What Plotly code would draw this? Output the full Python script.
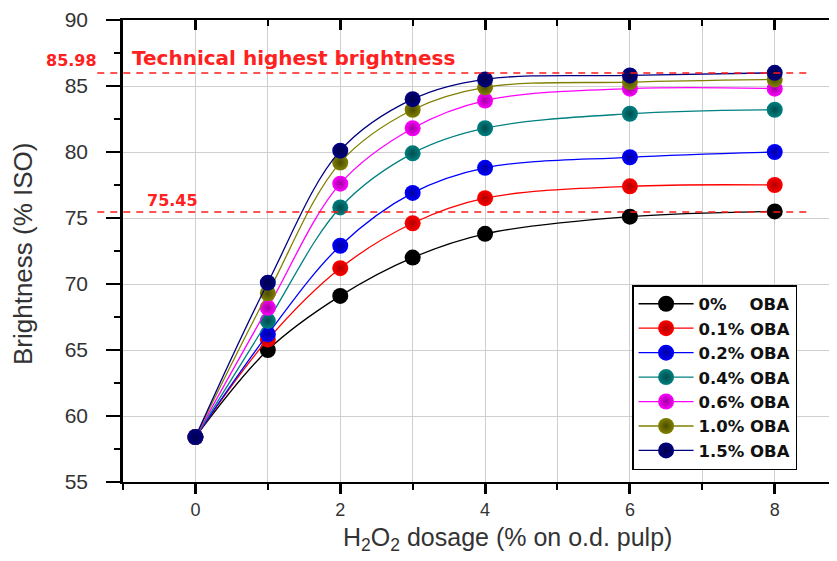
import plotly.graph_objects as go

dosage = [0, 1, 2, 3, 4, 6, 8]
series_names = ["0%\u00a0\u00a0\u00a0 OBA", "0.1% OBA", "0.2% OBA", "0.4% OBA", "0.6% OBA", "1.0% OBA", "1.5% OBA"]
oba_0 = [58.4, 65.0, 69.1, 72.0, 73.8, 75.1, 75.5]
oba_01 = [58.4, 65.8, 71.2, 74.6, 76.5, 77.4, 77.5]
oba_02 = [58.4, 66.2, 72.9, 76.9, 78.8, 79.6, 80.0]
oba_04 = [58.4, 67.2, 75.8, 79.9, 81.8, 82.9, 83.2]
oba_06 = [58.4, 68.2, 77.6, 81.8, 83.9, 84.8, 84.8]
oba_10 = [58.4, 69.3, 79.2, 83.2, 84.9, 85.3, 85.5]
oba_15 = [58.4, 70.1, 80.1, 84.0, 85.5, 85.8, 86.0]
colors = ["#000000", "#ff0000", "#0000ff", "#008080", "#ff00ff", "#808000", "#000080"]
edge_colors = ["#000000", "#b00000", "#0000a0", "#004c4c", "#a000a0", "#4c4c00", "#00004c"]
ref_high = 85.98
ref_low = 75.45
high_label = "85.98"
low_label = "75.45"
high_text = "Technical highest brightness"
x_title = "H<sub>2</sub>O<sub>2</sub> dosage (% on o.d. pulp)"
y_title = "Brightness (% ISO)"

all_series = [oba_0, oba_01, oba_02, oba_04, oba_06, oba_10, oba_15]

fig = go.Figure()
for name, vals, c, ec in zip(series_names, all_series, colors, edge_colors):
    fig.add_trace(go.Scatter(
        x=dosage, y=vals, name=name, mode="lines+markers",
        line=dict(color=c, width=1.3, shape="spline", smoothing=1.0),
        marker=dict(size=16, color=c, line=dict(width=0),
                    gradient=dict(type="radial", color=ec)),
    ))

# invisible trace for mirrored top/right axes
fig.add_trace(go.Scatter(x=[0], y=[ref_high], xaxis="x2", yaxis="y2", mode="markers",
                         marker=dict(opacity=0), showlegend=False, hoverinfo="skip"))

font_main = "Liberation Sans, Arial, sans-serif"
font_bold = "DejaVu Sans, Liberation Sans, sans-serif"
axis_color = "#333333"

fig.update_layout(
    width=837, height=561,
    margin=dict(l=115, r=8, t=12, b=87),
    paper_bgcolor="white", plot_bgcolor="white",
    font=dict(family=font_main, color=axis_color),
    xaxis=dict(
        range=[-1, 8.86], dtick=2, tick0=0, automargin=False,
        showline=True, linecolor="black", linewidth=2,
        ticks="outside", ticklen=10, tickwidth=2.5, tickcolor="black",
        tickfont=dict(size=18, color=axis_color),
        showgrid=True, gridcolor="#cfcfcf", gridwidth=1,
        minor=dict(dtick=1, tick0=0, ticks="outside", ticklen=6, tickwidth=2,
                   tickcolor="black", showgrid=True, gridcolor="#cfcfcf", gridwidth=1),
        zeroline=False,
    ),
    yaxis=dict(
        range=[55, 90], dtick=5, tick0=55, automargin=False,
        showline=True, linecolor="black", linewidth=2.5,
        ticks="outside", ticklen=14, tickwidth=2, tickcolor="black",
        tickfont=dict(size=21, color=axis_color), ticklabelstandoff=14,
        showgrid=True, gridcolor="#cfcfcf", gridwidth=1,
        minor=dict(dtick=2.5, tick0=55, ticks="outside", ticklen=6, tickwidth=2,
                   tickcolor="black", showgrid=False),
        zeroline=False,
    ),
    xaxis2=dict(
        overlaying="x", side="top", matches="x", range=[-1, 8.86], dtick=2, tick0=0,
        automargin=False,
        showline=True, linecolor="black", linewidth=2,
        ticks="inside", ticklen=10, tickwidth=2.5, tickcolor="black",
        showticklabels=False, showgrid=False, zeroline=False,
        minor=dict(dtick=1, tick0=0, ticks="inside", ticklen=6, tickwidth=2, tickcolor="black"),
    ),
    yaxis2=dict(
        overlaying="y", side="right", matches="y", range=[55, 90], dtick=5, tick0=55,
        automargin=False,
        showline=True, linecolor="black", linewidth=2,
        ticks="inside", ticklen=8, tickwidth=2, tickcolor="black",
        showticklabels=False, showgrid=False, zeroline=False,
    ),
    legend=dict(
        x=0.713, y=0.4264, xanchor="left", yanchor="top",
        bgcolor="white", bordercolor="black", borderwidth=1.5,
        font=dict(size=16.5, color="#111111", family=font_bold, weight="bold"),
        itemwidth=55, tracegroupgap=0,
    ),
    showlegend=True,
)

# axis titles
fig.add_annotation(xref="paper", yref="paper", x=0.539, y=-0.084, text=x_title,
                   showarrow=False, xanchor="center", yanchor="top",
                   font=dict(size=25, color=axis_color, family=font_main))
fig.add_annotation(xref="paper", yref="paper", x=-0.14, y=0.4935, text=y_title,
                   showarrow=False, xanchor="center", yanchor="middle", textangle=-90,
                   font=dict(size=26, color=axis_color, family=font_main))

# reference dashed lines (extend beyond plot area on the left)
for yv in [ref_high, ref_low]:
    fig.add_shape(type="line", xref="paper", yref="y",
                  x0=-0.036, x1=0.958, y0=yv, y1=yv,
                  line=dict(color="#ff1a1a", width=1.6, dash="7px,6px"), layer="above")

fig.add_annotation(xref="paper", yref="y", x=-0.0336, y=ref_high, text=high_label,
                   showarrow=False, xanchor="right", yanchor="bottom", yshift=1,
                   font=dict(size=16, color="#ff2020", family=font_bold, weight="bold"))
fig.add_annotation(xref="paper", yref="y", x=0.0098, y=ref_high, text=high_text,
                   showarrow=False, xanchor="left", yanchor="bottom", yshift=1,
                   font=dict(size=20, color="#ff2020", family=font_bold, weight="bold"))
fig.add_annotation(xref="paper", yref="y", x=0.0308, y=ref_low, text=low_label,
                   showarrow=False, xanchor="left", yanchor="bottom", yshift=0,
                   font=dict(size=16, color="#ff2020", family=font_bold, weight="bold"))

fig.write_html("out.html")
